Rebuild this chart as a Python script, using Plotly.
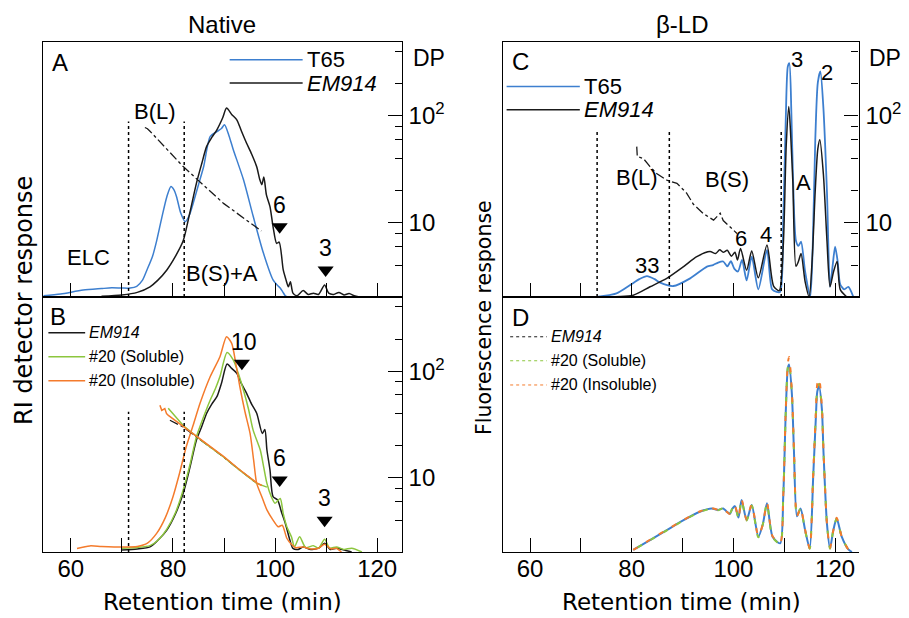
import plotly.graph_objects as go

# ---------------- DATA ----------------
# Panel A (Native, RI response, arbitrary units 0-100)
A_T65_t = [54.6, 58, 62.4, 66, 68, 70, 71.6, 72.9, 74, 74.9, 76, 76.8, 77.8, 78.8, 79.6, 80.2, 80.7, 81.5, 82.4, 83.2,
           84, 85, 86, 87.3, 88.6, 89.5, 90.1, 91, 91.8, 93.8, 95.7, 97.7, 99.6, 100.5, 101, 101.5, 102, 102.5]
A_T65_v = [0.5, 1.2, 2.7, 3.3, 3.6, 3.5, 3.5, 4.2, 6.5, 10.6, 16, 22, 31, 39.3, 43.3, 42, 39.3, 33, 29.5, 32,
           37, 44, 51, 62.9, 64.8, 66, 67.5, 63, 57.8, 46, 31.7, 17.3, 6.7, 4.5, 3.5, 2, 0.5, 0]
A_EM914_t = [66, 70, 73, 75.5, 77, 78.8, 80.5, 82, 83.3, 84.6, 85.6, 86.6, 87.6, 88.6, 89.7, 90.5, 91.5, 92.5, 93.4,
             94.4, 95.4, 96.4, 97, 97.4, 97.8, 98.3, 99, 99.6, 100.3, 100.8, 101.6, 102.1, 102.6, 103, 103.5, 104.3,
             105.5, 106.5, 107.5, 108.5, 109.7, 110.5, 111.5, 112.5, 113.5, 114.5, 115.5, 116.5]
A_EM914_v = [0.3, 0.8, 1.8, 4, 6.5, 10.6, 16, 22, 33, 44.6, 52, 59, 62.5, 65.5, 70, 74, 71.5, 69.4, 65,
             60.3, 56, 51, 46, 44, 47, 40, 35.4, 27.6, 21, 21.5, 10.6, 7, 4, 6, 1.5, 0.5,
             2.5, 1, 1.5, 1, 4.7, 1.5, 1, 1.8, 0.8, 1.4, 0.5, 0]
A_DP_t = [74.5, 75.0, 75.5, 76.5, 82.0, 89.9, 97.3]
A_DP = [78, 76, 72, 64, 33.6, 15.2, 8.4]
A_bounds = [71.3, 82.2]
A_mark_t = [100.9, 109.9]
A_mark_v = [27.5, 10.6]
A_mark_lbl = ["6", "3"]

# Panel B
B_EM914_t = [70, 73, 75.5, 77, 78.8, 80.5, 82, 83.3, 84.6, 85.6, 86.6, 87.6, 88.6, 89.5, 90.6, 91.5, 92.5, 93.4, 94.4,
             95.4, 96.4, 97.5, 98, 98.4, 99, 99.6, 100.5, 101.2, 102, 102.9, 103.5, 104.5, 105.5, 107, 108.5, 109.7,
             110.8, 112, 113.5, 115]
B_EM914_v = [0.8, 1.2, 2, 4.5, 8.6, 15, 23, 33, 43.9, 49, 54.4, 58, 60.9, 66.2, 73.7, 72, 70.1, 66, 62.3,
             58, 54.4, 46.5, 48, 40, 32.2, 21.7, 20.4, 16, 11.3, 4.7, 1.4, 1, 2, 1, 1.5, 3.4,
             1, 1.5, 0.8, 0]
B_SOL_t = [70, 73, 75.5, 77, 78.8, 80.5, 82, 83.3, 84.6, 86, 87.3, 88.3, 89.2, 90.6, 91.8, 92.8, 93.8, 94.8, 95.7,
           97.1, 97.8, 98.4, 99.2, 100, 101, 101.6, 102.3, 103.2, 103.8, 104.8, 106, 107.5, 108.5, 109.7, 110.7,
           112, 113.5, 115, 117]
B_SOL_v = [1.5, 1.8, 2.5, 4.5, 9, 15.5, 24.3, 34, 45.2, 53, 59.6, 64, 68.8, 78.2, 75.3, 70, 63.5, 56, 47.8,
           40, 33, 26.9, 22, 19.1, 21, 15, 9.9, 6, 2, 6, 1.7, 2.5, 1.5, 5, 1.5,
           2, 1, 1.5, 0]
B_INS_t = [61.2, 63.7, 66, 70, 73, 75, 76.8, 78.5, 80, 81.3, 82.6, 84, 85.3, 87.3, 89.2, 90.5, 91.5, 92.3, 93.1,
           94.1, 95.1, 95.8, 96.4, 97.4, 98.4, 99.6, 100.6, 101.4, 102.3, 103.2, 104, 105.5, 107, 108.5, 109.7,
           111, 112, 113]
B_INS_v = [1.4, 2.4, 2.2, 2, 2.2, 3.5, 7.3, 13.5, 21.7, 31, 41.3, 50, 58.3, 68.8, 76.6, 84.4, 81.8, 74, 64.8,
           55, 46.5, 36, 26.9, 21.7, 16.5, 12.5, 9.9, 10.5, 5.4, 3, 1.7, 2, 1.2, 1.5, 3,
           1.2, 1.5, 0]
B_DP_EM914_t = [79.4, 82, 86, 89.9, 93, 96.4]
B_DP_EM914 = [34.7, 30, 21.6, 15.7, 11.9, 8.9]
B_DP_SOL_t = [79.07, 82, 86, 89.9, 93, 96.4, 98.4]
B_DP_SOL = [45, 31, 21.6, 15.7, 11.9, 8.9, 8.2]
B_DP_INS_t = [77.44, 77.8, 78.4, 78.74, 79.1, 82, 86, 89.9, 93, 96.4, 97.4]
B_DP_INS = [48, 43, 44.7, 40, 38.5, 30.5, 21.8, 15.9, 12.0, 9.0, 8.5]
B_bounds = [71.3, 82.2]
B_mark_t = [93.5, 100.9, 109.7]
B_mark_v = [74, 28.2, 12.5]
B_mark_lbl = ["10", "6", "3"]

# Panel C (beta-LD, fluorescence)
C_T65_t = [73.1, 77, 79.7, 81.5, 83, 84.5, 85.6, 88.2, 91.5, 94.8, 96, 97, 98, 98.8, 99.5, 100.2, 100.9, 101.7,
           102.6, 103.6, 104.9, 106.6, 107.6, 108.5, 109.2, 109.8, 110.3, 110.7, 111, 111.4, 111.7, 112.3, 112.8,
           113.3, 114.1, 115.1, 115.6, 116.1, 116.6, 117.1, 117.7, 118.4, 119, 119.5, 120, 120.5, 121, 121.8,
           122.6, 123.6]
C_T65_v = [0, 1.4, 4.7, 7, 8.2, 7, 5.6, 4.3, 7.3, 11.9, 12.5, 13.5, 13.9, 12, 14, 11, 10, 14.5,
           6.5, 15.8, 3, 18.4, 3, 2, 2, 30, 70, 90.3, 91.6, 72, 48.6, 22, 20,
           21.7, 10, 0, 20, 61.6, 84, 88.4, 74, 41, 4, 12, 19.7, 14, 5, 3,
           4, 0]
C_EM914_t = [73.1, 80.3, 83.6, 86.9, 90.2, 92.8, 95.4, 96.5, 97.3, 98, 98.8, 99.6, 100.3, 100.8, 101.4, 102.6,
             103.6, 104.9, 106.6, 107.9, 109, 109.8, 110.4, 110.9, 111.3, 111.7, 112.3, 112.8, 113.3, 114.1, 114.9,
             115.5, 116.1, 116.6, 117, 117.7, 118.4, 119, 119.7, 120.4, 121, 122.3]
C_EM914_v = [0, 0.7, 4, 7.3, 11.9, 15.8, 17.8, 17, 18.5, 17.5, 18.3, 16, 17.5, 14.5, 19, 10.5,
             18, 7.5, 20.4, 4.3, 2.5, 20, 60, 74.6, 62, 44.5, 12, 14, 17, 6, 0,
             15, 42, 58, 61.6, 48, 22, 4, 10, 13.9, 3, 0]
C_DP_t = [80.99, 81.1, 82.3, 83.6, 84.9, 86.9, 88.9, 90.8, 92.1, 94.1, 96.1, 97.4, 98.0, 100.7]
C_DP = [51.7, 41.7, 40, 33.6, 29, 25.1, 23.4, 19, 15, 12.2, 10.6, 12.3, 10.5, 7.96]
C_bounds = [73.2, 87.4, 109.4]

# Panel D
D_t = [80.3, 83.6, 86.9, 90.2, 93.4, 95.7, 97, 98, 98.6, 99.3, 99.8, 100.3, 101, 101.6, 102.6, 103.6, 104.9,
       105.8, 106.6, 107.7, 109.2, 109.8, 110.3, 110.7, 110.95, 111.5, 111.9, 112.5, 113.2, 114.1, 115, 115.7,
       116.2, 116.5, 116.85, 117.4, 117.7, 118.4, 119, 119.6, 120.3, 121.3, 122.6, 123.3]
D_EM914_v = [0.8, 4.7, 8.6, 12.5, 15.8, 17.1, 16.5, 17.1, 16, 15, 17, 18, 13.5, 20.4, 12.5, 18.4, 6,
             11, 19.1, 6, 3.4, 21.7, 55, 72, 73.5, 62, 40, 14, 17.1, 8.6, 1.4, 30,
             52, 63, 65, 56, 40, 11, 1.4, 8, 13.2, 6, 1, 0]
D_SOL_v = [0.8, 4.6, 8.5, 12.4, 15.7, 17.0, 16.4, 17.2, 16.1, 15.2, 17.1, 18.2, 13.3, 20.2, 12.4, 18.2, 5.8,
           11, 19.0, 5.8, 3.3, 21.5, 55, 72.5, 74, 62, 40, 14, 17.0, 8.5, 1.3, 30,
           53, 64, 66, 56, 40, 11, 1.3, 8, 13.0, 6, 1, 0]
D_INS_v = [0.8, 4.8, 8.7, 12.6, 15.9, 17.2, 16.6, 17.0, 15.9, 14.9, 16.9, 17.9, 13.6, 20.6, 12.6, 18.6, 6.2,
           11, 19.3, 6.2, 3.5, 22, 56, 74, 76.5, 63, 41, 14, 17.3, 8.7, 1.5, 31,
           54, 66, 68, 57, 41, 11, 1.5, 8, 13.4, 6, 1, 0]

DP_major = [10, 100]
DP_major_text = ["10", "10<sup>2</sup>"]
DP_minor = [2, 4, 6, 8, 20, 40, 60, 80, 200, 400]
X_ticks = [60, 70, 80, 90, 100, 110, 120]
X_ticktext = ["60", " ", "80", " ", "100", " ", "120"]

# ---------------- STYLE ----------------
BLUE = "#3d7fcf"
BLACK = "#1a1a1a"
GREEN = "#8cc63e"
ORANGE = "#f47b2c"
AR = "Liberation Sans, Arial, sans-serif"
DJ = "DejaVu Sans, sans-serif"
W, H = 909, 618
OFF = 8  # page body margin offset in the browser

fig = go.Figure()

def line(t, v, xa, ya, color, width=1.5, dash="solid", smooth=True):
    ln = dict(color=color, width=width, dash=dash)
    if smooth:
        ln.update(shape="spline", smoothing=0.7)
    fig.add_trace(go.Scatter(x=t, y=v, xaxis=xa, yaxis=ya, mode="lines", line=ln,
                             showlegend=False, hoverinfo="skip"))

# Panel A
line(A_T65_t, A_T65_v, "x", "y", BLUE)
line(A_EM914_t, A_EM914_v, "x", "y", BLACK)
line(A_DP_t, A_DP, "x", "y5", BLACK, 1.3, "dashdot", False)
# Panel B
line(B_EM914_t, B_EM914_v, "x2", "y2", BLACK)
line(B_SOL_t, B_SOL_v, "x2", "y2", GREEN)
line(B_INS_t, B_INS_v, "x2", "y2", ORANGE)
line(B_DP_EM914_t, B_DP_EM914, "x2", "y6", BLACK, 1.3, "dashdot", False)
line(B_DP_SOL_t, B_DP_SOL, "x2", "y6", GREEN, 1.5, "solid", False)
line(B_DP_INS_t, B_DP_INS, "x2", "y6", ORANGE, 1.5, "solid", False)
# Panel C
line(C_T65_t, C_T65_v, "x3", "y3", BLUE, 1.8)
line(C_EM914_t, C_EM914_v, "x3", "y3", BLACK, 1.5)
line(C_DP_t, C_DP, "x3", "y7", BLACK, 1.3, "dashdot", False)
# Panel D
line(D_t, D_EM914_v, "x4", "y4", BLUE, 2)
line(D_t, D_SOL_v, "x4", "y4", GREEN, 2, "0px,5px,5px,5px")
line(D_t, D_INS_v, "x4", "y4", ORANGE, 2, "5px,10px")

# Triangle markers
for mt, mv, xa, ya in [(A_mark_t, A_mark_v, "x", "y"), (B_mark_t, B_mark_v, "x2", "y2")]:
    fig.add_trace(go.Scatter(x=mt, y=mv, xaxis=xa, yaxis=ya, mode="markers",
                             marker=dict(symbol="triangle-down", size=14, color="black"),
                             showlegend=False, hoverinfo="skip"))

annotations = []
shapes = []

def txt(x, y, s, xref, yref, size=23, xanchor="center", yanchor="middle", family=AR, angle=0, italic=False):
    if italic:
        s = "<i>" + s + "</i>"
    annotations.append(dict(x=x, y=y, xref=xref, yref=yref, text=s, showarrow=False,
                            xanchor=xanchor, yanchor=yanchor, textangle=angle,
                            font=dict(family=family, size=size, color="black")))

# marker labels
for mt, mv, lbl, xa, ya in [(A_mark_t, A_mark_v, A_mark_lbl, "x", "y"), (B_mark_t, B_mark_v, B_mark_lbl, "x2", "y2")]:
    for t, v, s in zip(mt, mv, lbl):
        txt(t + (0.4 if s == "10" else 0), v + 8.5, s, xa, ya)

# boundary dotted lines
for b in A_bounds:
    shapes.append(dict(type="line", xref="x", yref="y", x0=b, x1=b, y0=0, y1=68.7,
                       line=dict(color="black", width=1.5, dash="dot")))
for b in B_bounds:
    shapes.append(dict(type="line", xref="x2", yref="y2", x0=b, x1=b, y0=0, y1=55,
                       line=dict(color="black", width=1.5, dash="dot")))
for b, top in zip(C_bounds, [64.8, 64.8, 65.5]):
    shapes.append(dict(type="line", xref="x3", yref="y3", x0=b, x1=b, y0=0, y1=top,
                       line=dict(color="black", width=1.5, dash="dot")))

# panel letters
txt(55.9, 91.8, "A", "x", "y", 24, "left")
txt(55.6, 92.2, "B", "x2", "y2", 24, "left")
txt(56.1, 92.2, "C", "x3", "y3", 24, "left")
txt(56.1, 91.8, "D", "x4", "y4", 24, "left")

# Panel A labels
txt(63.4, 15.3, "ELC", "x", "y", 22)
txt(76.5, 72.5, "B(L)", "x", "y", 22)
txt(89.6, 9.4, "B(S)+A", "x", "y", 22)
# Panel C labels
txt(112.5, 93, "3", "x3", "y3", 22)
txt(118.5, 87.8, "2", "x3", "y3", 22)
txt(81.0, 46.7, "B(L)", "x3", "y3", 22)
txt(98.7, 45.9, "B(S)", "x3", "y3", 22)
txt(113.7, 44.7, "A", "x3", "y3", 22)
txt(101.5, 23.1, "6", "x3", "y3", 22)
txt(106.4, 24.3, "4", "x3", "y3", 22)
txt(83.0, 12.5, "33", "x3", "y3", 22)

# Legends (drawn manually)
def leg(x0, x1, y, color, xa, ya, label, size, dash="solid", width=1.5, italic=False):
    shapes.append(dict(type="line", xref=xa, yref=ya, x0=x0, x1=x1, y0=y, y1=y,
                       line=dict(color=color, width=width, dash=dash)))
    txt(x1 + 0.4, y, label, xa, ya, size, "left", italic=italic)

leg(91.1, 105.4, 92.9, BLUE, "x", "y", "T65", 22)
leg(91.1, 105.4, 83.8, BLACK, "x", "y", "EM914", 22, italic=True)
leg(55.6, 62.8, 86.0, BLACK, "x2", "y2", "EM914", 16, italic=True)
leg(55.6, 62.8, 76.6, GREEN, "x2", "y2", "#20 (Soluble)", 16)
leg(55.6, 62.8, 67.2, ORANGE, "x2", "y2", "#20 (Insoluble)", 16)
leg(55.4, 69.8, 82.5, BLUE, "x3", "y3", "T65", 22)
leg(55.4, 69.8, 73.3, BLACK, "x3", "y3", "EM914", 22, italic=True)
leg(56.1, 63.3, 84.4, BLACK, "x4", "y4", "EM914", 16, "dot", 1, italic=True)
leg(56.1, 63.3, 75.0, GREEN, "x4", "y4", "#20 (Soluble)", 16, "dot", 1)
leg(56.1, 63.3, 65.5, ORANGE, "x4", "y4", "#20 (Insoluble)", 16, "dot", 1)

# Titles & axis titles (paper coords); positions are given in screen pixels
def P(px, py):
    return (px - OFF) / W, 1 - (py - OFF) / H

for s, cx in [("Native", 222), ("β-LD", 682)]:
    x, y = P(cx, 24)
    txt(x, y, s, "paper", "paper", 24)
for cx in [222, 681]:
    x, y = P(cx, 602)
    txt(x, y, "Retention time (min)", "paper", "paper", 23, family=DJ)
x, y = P(24, 301)
txt(x, y, "RI detector response", "paper", "paper", 24, family=DJ, angle=-90)
x, y = P(484, 318)
txt(x, y, "Fluorescence response", "paper", "paper", 20.5, family=DJ, angle=-90)
for axx in [410.5, 867]:
    x, y = P(axx, 58)
    txt(x, y, "DP", "paper", "paper", 23, "left")

# ---------------- AXES ----------------
XL = [(43.3 - OFF) / W, (401.7 - OFF) / W]
XR = [(503.3 - OFF) / W, (858.5 - OFF) / W]
YT = [1 - (297 - OFF) / H, 1 - (41.7 - OFF) / H]
YB = [1 - (552 - OFF) / H, 1 - (297 - OFF) / H]

def xax(dom, rng, anchor, labels):
    return dict(domain=dom, range=rng, anchor=anchor, showline=True, linecolor="black", linewidth=1.2,
                mirror=True, ticks="inside", ticklen=14, tickwidth=1.2, tickcolor="black",
                tickmode="array", tickvals=X_ticks, ticktext=X_ticktext, showticklabels=labels,
                tickfont=dict(family=AR, size=24, color="black"), showgrid=False, zeroline=False,
                ticklabelstandoff=-5)

def yax(dom, anchor):
    return dict(domain=dom, range=[0, 100], anchor=anchor, showline=True, linecolor="black", linewidth=1.2,
                ticks="", showticklabels=False, showgrid=False, zeroline=False)

def dpax(over, anchor):
    return dict(overlaying=over, anchor=anchor, side="right", type="log", range=[0.306, 2.695],
                showline=True, linecolor="black", linewidth=1.2, ticks="inside", ticklen=14, tickwidth=1.2,
                tickcolor="black", tickmode="array", tickvals=DP_major, ticktext=DP_major_text,
                tickfont=dict(family=AR, size=24, color="black"), showgrid=False, zeroline=False,
                ticklabelstandoff=1,
                minor=dict(tickmode="array", tickvals=DP_minor, ticks="inside", ticklen=7, tickwidth=1.2,
                           tickcolor="black", showgrid=False))

fig.update_layout(
    width=W, height=H, margin=dict(l=0, r=0, t=0, b=0, autoexpand=False),
    paper_bgcolor="white", plot_bgcolor="white", showlegend=False,
    xaxis=xax(XL, [54.6, 124.8], "y", False),
    xaxis2=xax(XL, [54.6, 124.8], "y2", True),
    xaxis3=xax(XR, [54.75, 124.6], "y3", False),
    xaxis4=xax(XR, [54.75, 124.6], "y4", True),
    yaxis=yax(YT, "x"), yaxis2=yax(YB, "x2"), yaxis3=yax(YT, "x3"), yaxis4=yax(YB, "x4"),
    yaxis5=dpax("y", "x"), yaxis6=dpax("y2", "x2"), yaxis7=dpax("y3", "x3"), yaxis8=dpax("y4", "x4"),
    annotations=annotations, shapes=shapes,
)

fig.write_html("out.html")
